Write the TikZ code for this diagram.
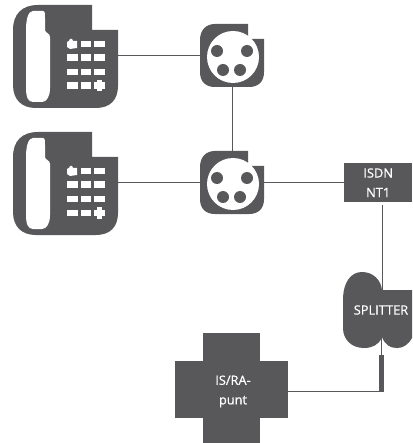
\documentclass[tikz,border=0pt]{standalone}
\usepackage{fontspec}
\setmainfont[FakeBold=0.8]{Open Sans}
\definecolor{dk}{HTML}{58585A}
\tikzset{x=1pt,y=-1pt,
  conn/.style={draw=dk,line width=0.9pt},
  lbl/.style={text=white,align=center,font=\fontsize{12.8}{19.5}\selectfont,inner sep=0pt},
  dkfill/.style={fill=dk,draw=none},
  whfill/.style={fill=white,draw=none}}
\newcommand{\phoneicon}[2]{%
\begin{scope}[shift={(#1,#2)}]
\path[dkfill] (38,5) -- (92,5) -- (92,30) -- (118,30) -- (118,86) .. controls (118,100) and (110,108) .. (96,108) -- (36,108)
  .. controls (22,108) and (13,100) .. (13,85) -- (13,30) .. controls (13,14) and (22,5) .. (38,5) -- cycle;
\path[whfill] (33,11) -- (43,11) .. controls (45,11) and (45,14) .. (45,18) -- (45,30) .. controls (45,33) and (50,33) .. (50,37) -- (50,88) .. controls (50,96) and (47,102) .. (42,102) -- (33,102) .. controls (28,102) and (26,97) .. (26,88) -- (26,30) .. controls (26,20) and (28,11) .. (33,11) -- cycle;
\path[whfill] (67,42) -- (69,41) -- (70,39) -- (72,39) -- (73,41) -- (77,41) -- (77,48) -- (70,49) -- (67,47) -- cycle;
\foreach \yy in {41,54.5,69,82.5}{\path[whfill] (80.5,\yy) rectangle (91,\yy+6.5);}
\foreach \yy in {41,54.5,69}{\path[whfill] (94,\yy) rectangle (105,\yy+6.5);}
\foreach \yy in {54.5,69,82.5}{\path[whfill] (67,\yy) rectangle (77.5,\yy+6.5);}
\path[whfill] (97,80.5) rectangle (102,91.5);
\path[whfill] (94,82.5) rectangle (105,89);
\end{scope}}
\newcommand{\socketicon}[2]{%
\begin{scope}[shift={(#1,#2)}]
\path[dkfill] (215,24) -- (248,24) -- (248,39) -- (264,39) -- (264,72) .. controls (264,82) and (258,87) .. (249,87) -- (215,87) .. controls (206,87) and (200,82) .. (200,72) -- (200,40) .. controls (200,30) and (206,24) .. (215,24) -- cycle;
\path[whfill] (233,57) circle[radius=26];
\foreach \hx/\hy in {217/51,247/51,223/70,240/70}{\path[dkfill] (\hx,\hy) circle[radius=6];}
\end{scope}}
\begin{document}
\begin{tikzpicture}
\useasboundingbox (0,0) rectangle (412,443);
\phoneicon{0}{0}
\phoneicon{0}{127}
\socketicon{0}{0}
\socketicon{0}{127}
\node[inner sep=0pt,minimum size=0pt] (ph1) at (118,55) {};
\node[inner sep=0pt,minimum size=0pt] (ph2) at (118,182) {};
\node[inner sep=0pt,minimum size=0pt] (so1w) at (200,55) {};
\node[inner sep=0pt,minimum size=0pt] (so2w) at (200,182) {};
\node[inner sep=0pt,minimum size=0pt] (so1s) at (232,87) {};
\node[inner sep=0pt,minimum size=0pt] (so2n) at (232,151) {};
\node[inner sep=0pt,minimum size=0pt] (so2e) at (264,182) {};
\node[dkfill,lbl,minimum width=68pt,minimum height=39pt,anchor=north west] (isdn) at (344,163) {ISDN\\NT1};
\coordinate (isdnout) at (382,205);
\coordinate (splitin) at (382,290);
\path[dkfill] (343,300) .. controls (343,282) and (351,272) .. (362,272) .. controls (373,272) and (381,280) .. (382,290) -- (412,290) -- (412,338) .. controls (408,345) and (403,348) .. (397,348) .. controls (390,348) and (385,345) .. (382,337) .. controls (379,345) and (372,348) .. (364,348) .. controls (352,348) and (343,340) .. (343,328) -- cycle;
\node[lbl,inner sep=0pt] (split) at (381,310) {SPLITTER};
\path[dkfill] (203,333) rectangle (260,443);
\path[dkfill] (175,361) rectangle (288,418);
\node[lbl] (isra) at (233,391.5) {IS/RA-\\punt};
\coordinate (crossE) at (288,391);
\coordinate (splout) at (381.5,337);
\coordinate (barT) at (381.5,355);
\coordinate (barB) at (381.5,392);
\draw[conn] (ph1) -- (so1w);
\draw[conn] (ph2) -- (so2w);
\draw[conn] (so1s) -- (so2n);
\draw[conn] (so2e) -- (isdn.west |- so2e);
\draw[conn] (isdnout) -- (splitin);
\draw[conn] (splout) -- (barT);
\draw[dk,line width=4.5pt] (barT) -- (barB);
\draw[conn] (crossE) -- (barB |- crossE);
\end{tikzpicture}
\end{document}
